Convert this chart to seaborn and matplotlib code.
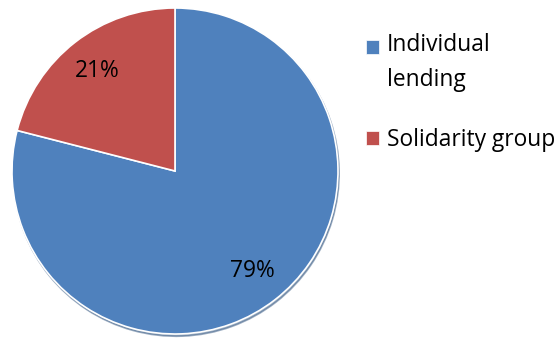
import matplotlib
matplotlib.use("Agg")
import matplotlib.pyplot as plt
from matplotlib.patches import Rectangle
from matplotlib.legend_handler import HandlerPatch
import seaborn as sns

# Loan methodology shares
categories = ["Individual\nlending", "Solidarity group"]
shares = [79, 21]
colors = ["#4F81BD", "#C0504D"]

sns.set_theme(style="white")
plt.rcParams["font.family"] = ["Open Sans", "DejaVu Sans"]

W, H = 559, 340
FS = 16.4
fig = plt.figure(figsize=(W / 100, H / 100), dpi=100)
fig.patch.set_facecolor("white")

cx, cy, r = 175, 340 - 171, 163
ax = fig.add_axes([(cx - r) / W, (cy - r) / H, 2 * r / W, 2 * r / H])

wedges, texts, autotexts = ax.pie(
    shares,
    colors=colors,
    startangle=90,
    counterclock=False,
    autopct="%d%%",
    pctdistance=0.775,
    radius=1,
    wedgeprops=dict(edgecolor="white", linewidth=1.2),
    textprops=dict(fontsize=FS, color="black"),
    shadow=dict(ox=0.005, oy=-0.01, shade=0.3),
)
ax.set_xlim(-1, 1)
ax.set_ylim(-1, 1)
ax.set_aspect("equal")
ax.axis("off")


def square_at_first_line(lift):
    # legend swatch raised so it sits beside the first line of a wrapped label
    def make(legend, orig_handle, xdescent, ydescent, width, height, fontsize):
        return Rectangle((-xdescent, -ydescent + lift), width, height)
    return HandlerPatch(patch_func=make)


leg = ax.legend(
    wedges,
    categories,
    loc="upper left",
    bbox_to_anchor=(366 / W, 1 - 33 / H),
    bbox_transform=fig.transFigure,
    frameon=False,
    fontsize=FS,
    labelcolor="black",
    handlelength=0.57,
    handleheight=0.57,
    handletextpad=0.35,
    labelspacing=1.6,
    borderpad=0,
    borderaxespad=0,
    handler_map={wedges[0]: square_at_first_line(11.8)},
)
for t in leg.get_texts():
    t.set_linespacing(1.6)
for h in leg.legend_handles:
    h.set_edgecolor("white")
    h.set_linewidth(0.5)

fig.savefig("out.png", dpi=100, facecolor="white")
